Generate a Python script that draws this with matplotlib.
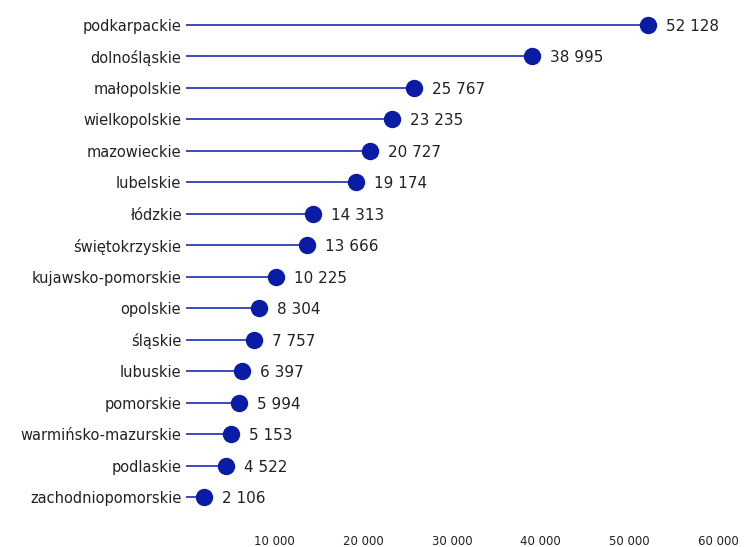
import matplotlib
matplotlib.use("Agg")
import matplotlib.pyplot as plt

# wojewodztwa i wartosci
regions = ["podkarpackie", "dolnośląskie", "małopolskie", "wielkopolskie",
           "mazowieckie", "lubelskie", "łódzkie", "świętokrzyskie",
           "kujawsko-pomorskie", "opolskie", "śląskie", "lubuskie",
           "pomorskie", "warmińsko-mazurskie", "podlaskie", "zachodniopomorskie"]
values = [52128, 38995, 25767, 23235, 20727, 19174, 14313, 13666,
          10225, 8304, 7757, 6397, 5994, 5153, 4522, 2106]
xticks = [10000, 20000, 30000, 40000, 50000, 60000]


def fmt(v):
    return "{:,}".format(v).replace(",", " ")


W, H = 753, 547
fig = plt.figure(figsize=(W / 100, H / 100), dpi=100)
left_px = 185.5
right_px = left_px + 6.1 * 88.8
top_px = 25 - 0.6 * 31.5
height_px = 16.4 * 31.5
ax = fig.add_axes([left_px / W, 1 - (top_px + height_px) / H,
                   (right_px - left_px) / W, height_px / H])

line_col = "#1b2db0"
dot_col = "#0a1ca6"
ypos = list(range(len(regions)))

ax.hlines(ypos, 0, values, color=line_col, linewidth=1.2, zorder=1)
ax.plot(values, ypos, "o", color=dot_col, markersize=11.5, zorder=2)
for y, v in zip(ypos, values):
    ax.annotate(fmt(v), (v, y), xytext=(13, -1), textcoords="offset points",
                ha="left", va="center", fontsize=11, color="#222222")

ax.set_xlim(0, 61000)
ax.set_ylim(15.8, -0.6)
ax.set_yticks(ypos)
ax.set_yticklabels(regions, fontsize=10.5, color="#222222")
ax.set_xticks(xticks)
ax.set_xticklabels([fmt(t) for t in xticks], fontsize=8.5, color="#222222")
ax.tick_params(length=0)
ax.tick_params(axis="y", pad=3)
ax.tick_params(axis="x", pad=9)
for s in ax.spines.values():
    s.set_visible(False)

plt.savefig("out.png", dpi=100)
